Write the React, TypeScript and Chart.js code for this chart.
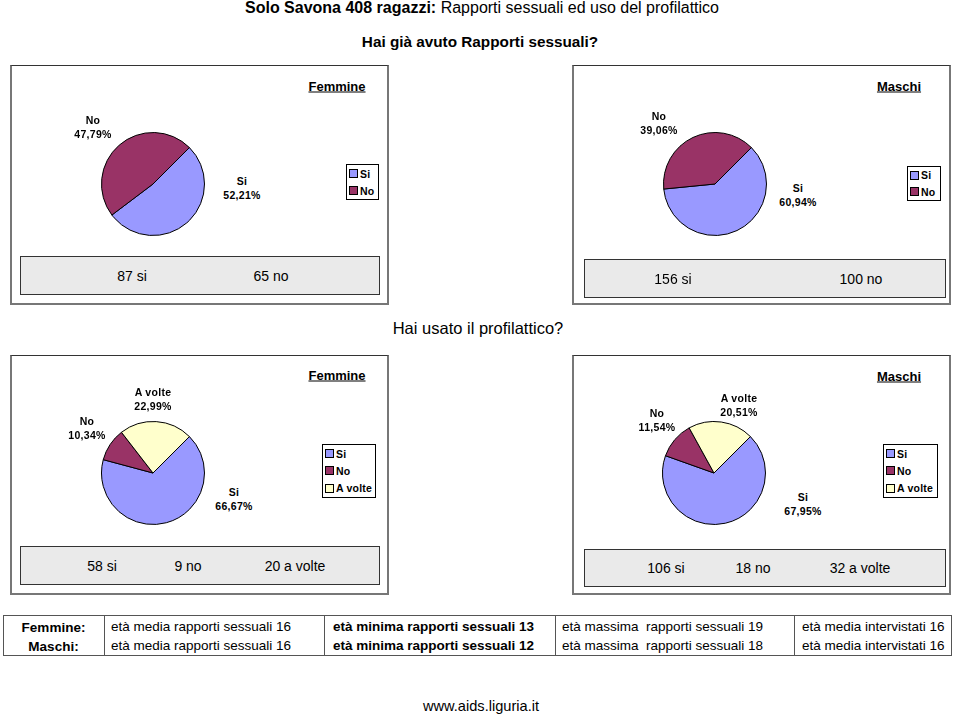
import React, { useEffect, useRef } from "react";
import { Chart, registerables } from "chart.js";

Chart.register(...registerables);

// ---------- data ----------
const answersTwo = ["Si", "No"];
const answersThree = ["Si", "No", "A volte"];

const femRapportiPct = [52.21, 47.79];
const masRapportiPct = [60.94, 39.06];
const femProfilPct = [66.67, 10.34, 22.99];
const masProfilPct = [67.95, 11.54, 20.51];

const femRapportiCounts = [87, 65];
const masRapportiCounts = [156, 100];
const femProfilCounts = [58, 9, 20];
const masProfilCounts = [106, 18, 32];
const countWordsTwo = ["si", "no"];
const countWordsThree = ["si", "no", "a volte"];

const tableGroups = ["Femmine:", "Maschi:"];
const mediaRapporti = [16, 16];
const minimaRapporti = [13, 12];
const massimaRapporti = [19, 18];
const mediaIntervistati = [16, 16];

const sliceColors = ["#9999FF", "#993366", "#FFFFCC"];

// ---------- helpers ----------
const FONT = "'Liberation Sans', Arial, Helvetica, sans-serif";
const fmtPct = (v: number) => v.toFixed(2).replace(".", ",") + "%";

type PieProps = {
  cx: number;
  cy: number;
  labels: string[];
  values: number[];
  labelOffsets: [number, number][];
};

function Pie({ cx, cy, labels, values, labelOffsets }: PieProps) {
  const ref = useRef<HTMLCanvasElement | null>(null);
  useEffect(() => {
    if (!ref.current) return;
    const chart = new Chart(ref.current, {
      type: "pie",
      data: {
        labels,
        datasets: [
          {
            data: values,
            backgroundColor: sliceColors.slice(0, values.length),
            borderColor: "#000000",
            borderWidth: 1,
          },
        ],
      },
      options: {
        responsive: false,
        animation: false,
        rotation: 45,
        events: [],
        layout: { padding: 8 },
        plugins: { legend: { display: false }, tooltip: { enabled: false } },
      },
    });
    return () => chart.destroy();
  }, []);
  const size = 120;
  return (
    <>
      <canvas
        ref={ref}
        width={size}
        height={size}
        style={{ position: "absolute", left: cx - size / 2, top: cy - size / 2, width: size, height: size }}
      />
      {labels.map((l, i) => (
        <div
          key={l}
          style={{
            position: "absolute",
            left: cx + labelOffsets[i][0],
            top: cy + labelOffsets[i][1],
            transform: "translate(-50%, -50%)",
            textAlign: "center",
            font: `bold 10.5px ${FONT}`,
            lineHeight: "14px",
            letterSpacing: "0.3px",
            whiteSpace: "nowrap",
            color: "#000",
          }}
        >
          {l}
          <br />
          {fmtPct(values[i])}
        </div>
      ))}
    </>
  );
}

function Legend({ x, y, w, h, labels }: { x: number; y: number; w: number; h: number; labels: string[] }) {
  return (
    <div
      style={{
        position: "absolute",
        left: x,
        top: y,
        width: w,
        height: h,
        boxSizing: "border-box",
        border: "1px solid #000",
        background: "#fff",
        display: "flex",
        flexDirection: "column",
        justifyContent: "center",
        paddingLeft: 2,
        whiteSpace: "nowrap",
        overflow: "hidden",
      }}
    >
      {labels.map((l, i) => (
        <div key={l} style={{ display: "flex", alignItems: "center", height: 17.5, font: `bold 10.5px ${FONT}`, letterSpacing: "0.2px", whiteSpace: "nowrap" }}>
          <span
            style={{
              display: "inline-block",
              flex: "0 0 auto",
              width: 7,
              height: 7,
              border: "1px solid #000",
              background: sliceColors[i],
              marginRight: 2,
            }}
          />
          {l}
        </div>
      ))}
    </div>
  );
}

function Panel({ x, y, w, h }: { x: number; y: number; w: number; h: number }) {
  return (
    <div
      style={{
        position: "absolute",
        left: x,
        top: y,
        width: w,
        height: h,
        boxSizing: "border-box",
        borderTop: "1px solid #333",
        borderLeft: "2px solid #777",
        borderRight: "2px solid #777",
        borderBottom: "2px solid #777",
        background: "#fff",
      }}
    />
  );
}

function CountBox({ x, y, w, h, texts, xs }: { x: number; y: number; w: number; h: number; texts: string[]; xs: number[] }) {
  return (
    <>
      <div
        style={{
          position: "absolute",
          left: x,
          top: y,
          width: w,
          height: h,
          boxSizing: "border-box",
          border: "1.5px solid #333",
          background: "#EAEAEA",
        }}
      />
      {texts.map((t, i) => (
        <div
          key={t}
          style={{
            position: "absolute",
            left: xs[i],
            top: y + h / 2,
            transform: "translate(-50%, -50%)",
            font: `14px ${FONT}`,
            whiteSpace: "nowrap",
          }}
        >
          {t}
        </div>
      ))}
    </>
  );
}

function Text({ x, y, children, style }: { x: number; y: number; children: React.ReactNode; style?: React.CSSProperties }) {
  return (
    <div
      style={{
        position: "absolute",
        left: x,
        top: y,
        transform: "translate(-50%, -50%)",
        whiteSpace: "nowrap",
        fontFamily: FONT,
        ...style,
      }}
    >
      {children}
    </div>
  );
}

export default function App() {
  const colX = [3, 104, 324, 555, 794, 952];
  const rowY = [627, 646];
  return (
    <div style={{ position: "absolute", left: 0, top: 0, width: 959, height: 715, background: "#fff", overflow: "hidden", color: "#000" }}>
      <Text x={482} y={8} style={{ fontSize: 16 }}>
        <b>Solo Savona 408 ragazzi:</b> Rapporti sessuali ed uso del profilattico
      </Text>
      <Text x={480} y={42} style={{ fontSize: 15.3, fontWeight: "bold" }}>
        Hai già avuto Rapporti sessuali?
      </Text>

      <Panel x={10} y={65} w={379} h={240} />
      <Panel x={572} y={65} w={379} h={240} />
      <Panel x={10} y={355} w={379} h={240} />
      <Panel x={572} y={355} w={379} h={240} />

      <Text x={337} y={86} style={{ fontSize: 13, fontWeight: "bold", textDecoration: "underline" }}>Femmine</Text>
      <Text x={899} y={86} style={{ fontSize: 13, fontWeight: "bold", textDecoration: "underline" }}>Maschi</Text>
      <Text x={337} y={375} style={{ fontSize: 13, fontWeight: "bold", textDecoration: "underline" }}>Femmine</Text>
      <Text x={899} y={376} style={{ fontSize: 13, fontWeight: "bold", textDecoration: "underline" }}>Maschi</Text>

      <Pie cx={153} cy={184} labels={answersTwo} values={femRapportiPct} labelOffsets={[[89, 4], [-60, -57]]} />
      <Pie cx={715} cy={184} labels={answersTwo} values={masRapportiPct} labelOffsets={[[83, 11], [-56, -61]]} />
      <Pie cx={153} cy={473} labels={answersThree} values={femProfilPct} labelOffsets={[[81, 26], [-66, -45], [0, -74]]} />
      <Pie cx={714} cy={473} labels={answersThree} values={masProfilPct} labelOffsets={[[89, 31], [-57, -53], [25, -68]]} />

      <Legend x={346} y={164} w={33} h={36} labels={answersTwo} />
      <Legend x={907} y={166} w={34} h={35} labels={answersTwo} />
      <Legend x={322} y={444} w={54} h={54} labels={answersThree} />
      <Legend x={883} y={444} w={55} h={54} labels={answersThree} />

      <CountBox x={20} y={256} w={360} h={39} texts={femRapportiCounts.map((c, i) => `${c} ${countWordsTwo[i]}`)} xs={[132, 271]} />
      <CountBox x={584} y={259} w={362} h={39} texts={masRapportiCounts.map((c, i) => `${c} ${countWordsTwo[i]}`)} xs={[673, 861]} />
      <CountBox x={20} y={546} w={360} h={39} texts={femProfilCounts.map((c, i) => `${c} ${countWordsThree[i]}`)} xs={[102, 188, 295]} />
      <CountBox x={584} y={549} w={362} h={38} texts={masProfilCounts.map((c, i) => `${c} ${countWordsThree[i]}`)} xs={[666, 753, 860]} />

      <Text x={478} y={328} style={{ fontSize: 16.5 }}>Hai usato il profilattico?</Text>

      {/* table */}
      <div
        style={{
          position: "absolute",
          left: colX[0],
          top: 615,
          width: colX[5] - colX[0],
          height: 41,
          boxSizing: "border-box",
          border: "1px solid #555",
        }}
      />
      {colX.slice(1, 5).map((x) => (
        <div key={x} style={{ position: "absolute", left: x, top: 615, width: 1, height: 41, background: "#555" }} />
      ))}
      {tableGroups.map((g, r) => (
        <React.Fragment key={g}>
          <Text x={(colX[0] + colX[1]) / 2} y={rowY[r]} style={{ fontSize: 13.5, fontWeight: "bold" }}>{g}</Text>
          <div style={{ position: "absolute", left: colX[1] + 7, top: rowY[r] - 8, font: `13.5px ${FONT}`, whiteSpace: "pre" }}>
            {`età media rapporti sessuali ${mediaRapporti[r]}`}
          </div>
          <div style={{ position: "absolute", left: colX[2] + 9, top: rowY[r] - 8, font: `bold 13.5px ${FONT}`, whiteSpace: "pre" }}>
            {`età minima rapporti sessuali ${minimaRapporti[r]}`}
          </div>
          <div style={{ position: "absolute", left: colX[3] + 7, top: rowY[r] - 8, font: `13.5px ${FONT}`, whiteSpace: "pre" }}>
            {`età massima  rapporti sessuali ${massimaRapporti[r]}`}
          </div>
          <div style={{ position: "absolute", left: colX[4] + 8, top: rowY[r] - 8, font: `13.5px ${FONT}`, whiteSpace: "pre" }}>
            {`età media intervistati ${mediaIntervistati[r]}`}
          </div>
        </React.Fragment>
      ))}

      <Text x={481} y={706} style={{ fontSize: 14.6 }}>www.aids.liguria.it</Text>
    </div>
  );
}
